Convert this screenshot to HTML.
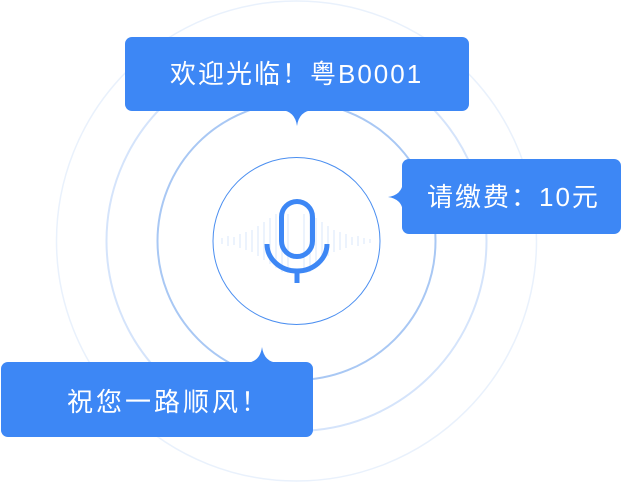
<!DOCTYPE html>
<html><head><meta charset="utf-8"><style>
html,body{margin:0;padding:0;background:#fff;}
body{width:622px;height:483px;overflow:hidden;position:relative;}
svg{position:absolute;left:0;top:0;}
.t{position:absolute;color:#fff;font-family:"Liberation Sans","Noto Sans CJK SC",sans-serif;font-size:26px;white-space:nowrap;line-height:1;letter-spacing:2px;}
</style></head><body>
<svg width="622" height="483" viewBox="0 0 622 483">
<circle cx="296.5" cy="241" r="240" fill="none" stroke="#e9f1fc" stroke-width="1.5"/>
<circle cx="296.5" cy="241" r="190" fill="none" stroke="#d5e4fb" stroke-width="2"/>
<circle cx="296.5" cy="241" r="139" fill="none" stroke="#a9c8f4" stroke-width="2"/>
<circle cx="296.5" cy="241" r="83.5" fill="none" stroke="#4a8ef0" stroke-width="1"/>
<g stroke="#e6effc" stroke-width="1.5">
<line x1="222" y1="238" x2="222" y2="244"/><line x1="228" y1="236" x2="228" y2="246"/><line x1="234" y1="237" x2="234" y2="245"/><line x1="240" y1="234" x2="240" y2="248"/><line x1="246" y1="232" x2="246" y2="250"/><line x1="252" y1="230" x2="252" y2="252"/><line x1="258" y1="226" x2="258" y2="256"/><line x1="264" y1="222" x2="264" y2="260"/><line x1="270" y1="218" x2="270" y2="264"/><line x1="276" y1="214" x2="276" y2="268"/><line x1="282" y1="210" x2="282" y2="272"/><line x1="288" y1="214" x2="288" y2="268"/><line x1="304" y1="214" x2="304" y2="268"/><line x1="310" y1="210" x2="310" y2="272"/><line x1="316" y1="218" x2="316" y2="264"/><line x1="322" y1="222" x2="322" y2="260"/><line x1="328" y1="226" x2="328" y2="256"/><line x1="334" y1="230" x2="334" y2="252"/><line x1="340" y1="232" x2="340" y2="250"/><line x1="346" y1="234" x2="346" y2="248"/><line x1="352" y1="237" x2="352" y2="245"/><line x1="358" y1="236" x2="358" y2="246"/><line x1="364" y1="238" x2="364" y2="244"/><line x1="370" y1="239" x2="370" y2="243"/>
</g>
<g fill="none" stroke="#3d87f5" stroke-width="5">
<rect x="281.5" y="201.5" width="31" height="55" rx="15.5"/>
<path d="M267 244 A30 27 0 0 0 327 244"/>
<line x1="297" y1="270" x2="297" y2="283"/>
</g>
<g fill="#3d87f5">
<rect x="125" y="37" width="344" height="74" rx="7"/>
<path d="M281 110 Q295 111 297 126 Q299 111 313 110 Z"/>
<rect x="402" y="159" width="219" height="75" rx="7"/>
<path d="M403 182 Q402 195 388 197 Q402 199 403 212 Z"/>
<rect x="1" y="362" width="312" height="75" rx="7"/>
<path d="M246 363 Q260 362 262 347 Q264 362 278 363 Z"/>
</g>
</svg>
<div class="t" style="left:170px;top:61px;">欢迎光临！粤B0001</div>
<div class="t" style="left:427px;top:184px;">请缴费：10元</div>
<div class="t" style="left:67px;top:389px;letter-spacing:3px;">祝您一路顺风！</div>
</body></html>
